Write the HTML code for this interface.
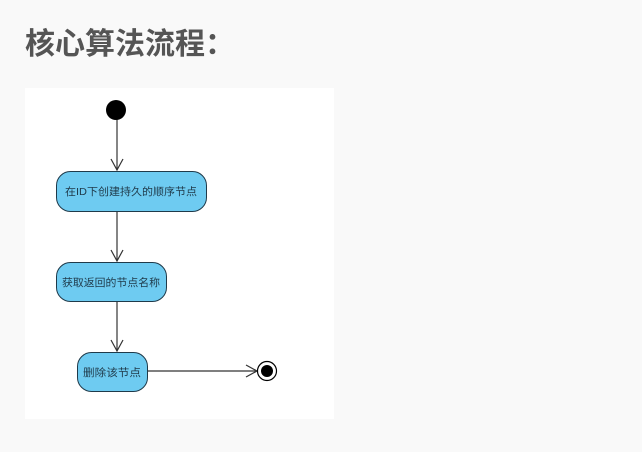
<!DOCTYPE html>
<html><head><meta charset="utf-8"><style>
html,body{margin:0;padding:0;background:#f9f9f9;width:642px;height:452px;overflow:hidden}
.t{position:absolute;left:25px;top:25px;font:bold 30px "Liberation Sans","Noto Sans CJK SC",sans-serif;color:#555;line-height:40px;white-space:nowrap}
svg{position:absolute;left:0;top:0}
</style></head><body>
<div class="t">核心算法流程：</div>
<svg width="642" height="452" font-family="'Liberation Sans','Noto Sans CJK SC',sans-serif">
<rect x="25" y="88" width="309" height="331" fill="#fff"/>
<circle cx="116" cy="110" r="10" fill="#000"/>
<g stroke="#333" stroke-width="1.2" fill="none">
<line x1="117" y1="120" x2="117" y2="170"/>
<polyline points="111,159 117,170 123,159"/>
<line x1="117" y1="211" x2="117" y2="261"/>
<polyline points="111,250 117,261 123,250"/>
<line x1="117" y1="301" x2="117" y2="351"/>
<polyline points="111,340 117,351 123,340"/>
<line x1="147" y1="371" x2="257" y2="371"/>
<polyline points="246,365 257,371 246,377"/>
</g>
<g fill="#6ecbf1" stroke="#1f3a4a" stroke-width="1">
<rect x="56.5" y="171.5" width="150" height="40" rx="14"/>
<rect x="56.5" y="262.5" width="110" height="39" rx="14"/>
<rect x="77.5" y="352.5" width="70" height="39" rx="14"/>
</g>
<g font-size="10.5" fill="#1f3a4a" text-anchor="middle">
<text x="131" y="195" textLength="132" lengthAdjust="spacingAndGlyphs">在ID下创建持久的顺序节点</text>
<text x="111" y="286" textLength="98" lengthAdjust="spacingAndGlyphs">获取返回的节点名称</text>
<text x="112" y="376" textLength="58" lengthAdjust="spacingAndGlyphs">删除该节点</text>
</g>
<circle cx="267" cy="371" r="9.5" fill="#fff" stroke="#000" stroke-width="1.2"/>
<circle cx="267" cy="371" r="6" fill="#000"/>
</svg>
</body></html>
